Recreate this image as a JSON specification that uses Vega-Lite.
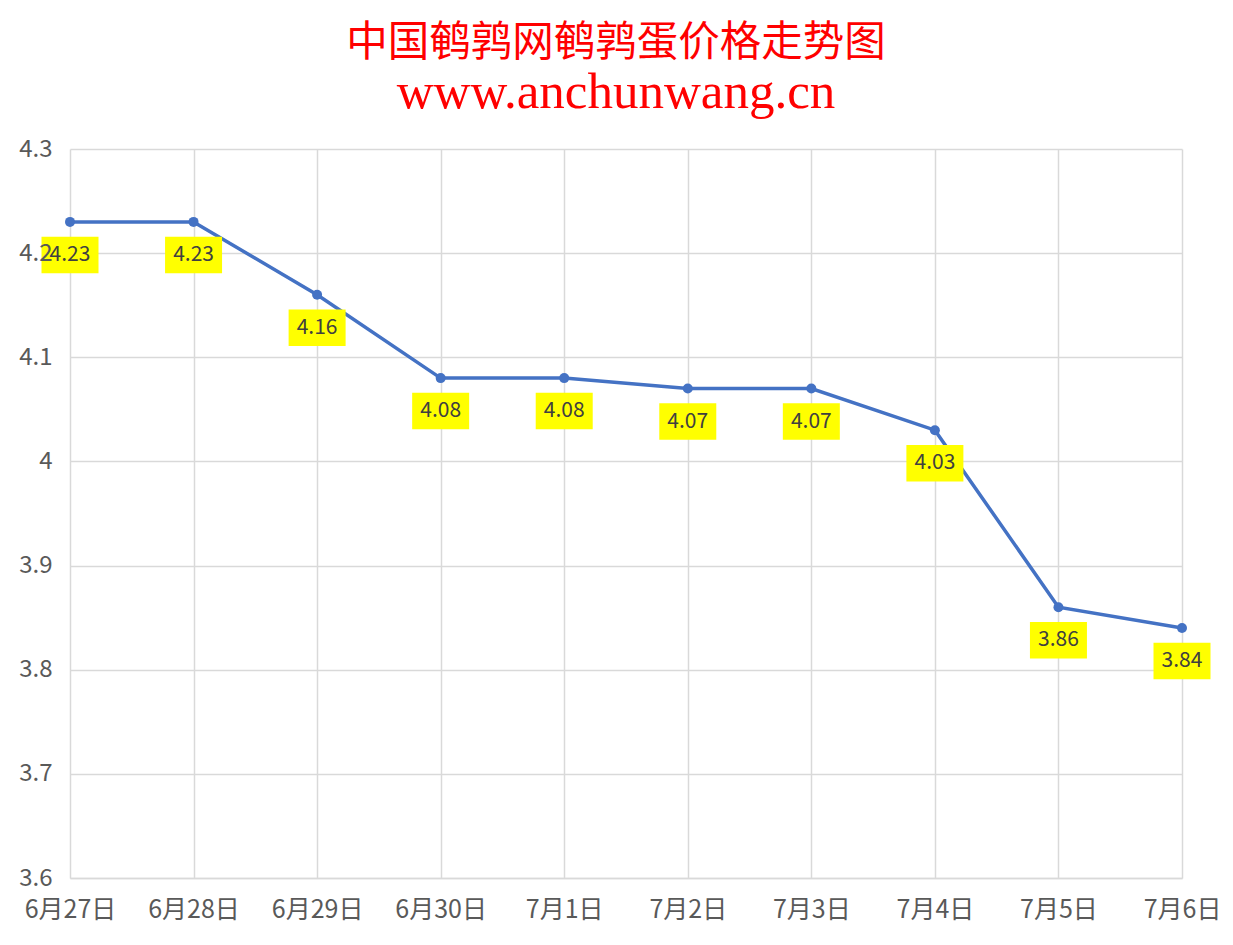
{
  "$schema": "https://vega.github.io/schema/vega-lite/v6.json",
  "width": 1112,
  "height": 729,
  "autosize": {"type": "none"},
  "padding": {"left": 70, "top": 149, "right": 51, "bottom": 67},
  "background": "white",
  "config": {"view": {"stroke": null}},
  "title": {
    "text": "中国鹌鹑网鹌鹑蛋价格走势图",
    "subtitle": "www.anchunwang.cn",
    "anchor": "middle",
    "frame": "group",
    "dx": -10,
    "offset": 19,
    "font": "Noto Sans CJK SC",
    "fontSize": 41.5,
    "fontWeight": "normal",
    "color": "#ff0000",
    "subtitleFont": "Liberation Serif",
    "subtitleFontSize": 51,
    "subtitleColor": "#ff0000",
    "subtitlePadding": 4
  },
  "data": {
    "values": [
      {"date": "6月27日", "price": 4.23},
      {"date": "6月28日", "price": 4.23},
      {"date": "6月29日", "price": 4.16},
      {"date": "6月30日", "price": 4.08},
      {"date": "7月1日", "price": 4.08},
      {"date": "7月2日", "price": 4.07},
      {"date": "7月3日", "price": 4.07},
      {"date": "7月4日", "price": 4.03},
      {"date": "7月5日", "price": 3.86},
      {"date": "7月6日", "price": 3.84}
    ]
  },
  "encoding": {
    "x": {
      "field": "date",
      "type": "ordinal",
      "sort": null,
      "scale": {"type": "point", "padding": 0},
      "axis": {
        "title": null,
        "labelAngle": 0,
        "labelFont": "Noto Sans CJK SC",
        "labelFontSize": 25,
        "labelColor": "#595959",
        "labelPadding": 19,
        "ticks": false,
        "grid": true,
        "gridColor": "#d9d9d9",
        "gridWidth": 1.5,
        "domainColor": "#d9d9d9",
        "domainWidth": 1.5
      }
    },
    "y": {
      "field": "price",
      "type": "quantitative",
      "scale": {"domain": [3.6, 4.3], "nice": false, "zero": false},
      "axis": null
    }
  },
  "layer": [
    {
      "mark": {"type": "line", "color": "#4472c4", "strokeWidth": 3.5},
      "encoding": {
        "y": {
          "field": "price",
          "type": "quantitative",
          "scale": {"domain": [3.6, 4.3], "nice": false, "zero": false},
          "axis": {
            "orient": "left",
            "title": null,
            "labels": false,
            "ticks": false,
            "domain": false,
            "grid": true,
            "gridColor": "#d9d9d9",
            "gridWidth": 1.5,
            "values": [3.6, 3.7, 3.8, 3.9, 4.0, 4.1, 4.2, 4.3],
            "zindex": 0
          }
        }
      }
    },
    {
      "mark": {"type": "point", "filled": true, "color": "#4472c4", "size": 100, "opacity": 1}
    },
    {
      "mark": {
        "type": "point",
        "shape": "M-1,-0.64H1V0.64H-1Z",
        "filled": true,
        "color": "#ffff00",
        "opacity": 1,
        "size": 3249,
        "yOffset": 33
      }
    },
    {
      "mark": {
        "type": "text",
        "font": "Noto Sans CJK SC",
        "fontSize": 21,
        "color": "#404040",
        "baseline": "middle",
        "dy": 33
      },
      "encoding": {
        "text": {"field": "price", "type": "quantitative", "format": ".2f"},
        "y": {
          "field": "price",
          "type": "quantitative",
          "scale": {"domain": [3.6, 4.3], "nice": false, "zero": false},
          "axis": {
            "orient": "left",
            "title": null,
            "labels": true,
            "ticks": false,
            "domain": false,
            "grid": false,
            "labelFont": "Noto Sans CJK SC",
            "labelFontSize": 24,
            "labelColor": "#595959",
            "labelPadding": 18,
            "values": [3.6, 3.7, 3.8, 3.9, 4.0, 4.1, 4.2, 4.3],
            "format": "~g",
            "zindex": 1
          }
        }
      }
    }
  ],
  "resolve": {"axis": {"y": "independent"}}
}
